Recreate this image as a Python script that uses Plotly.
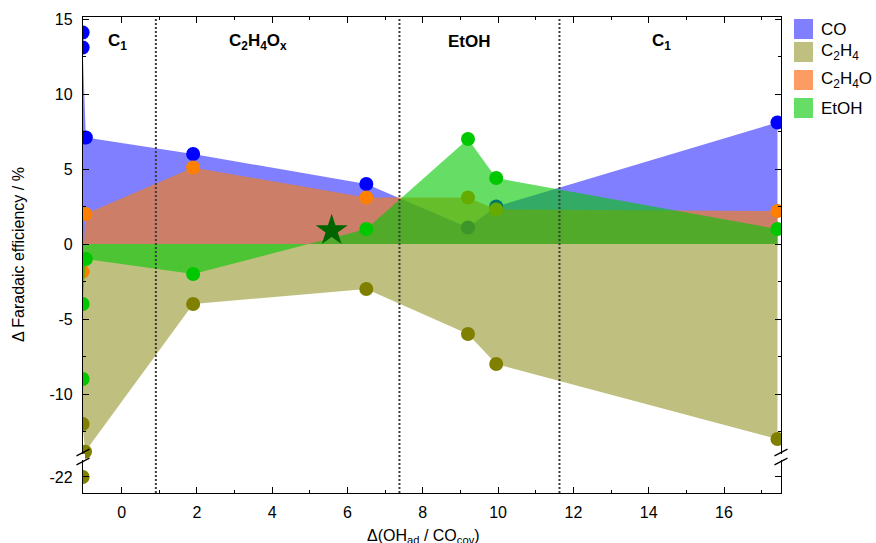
import plotly.graph_objects as go

# ---------------- data ----------------
x_CO = [-1.035, -1.035, -0.95, 1.9, 6.5, 9.2, 9.95, 17.42]
y_CO = [14.1, 13.1, 7.1, 6.0, 4.0, 1.1, 2.5, 8.1]

x_C2H4 = [-1.035, -1.035, -0.97, 1.9, 6.5, 9.2, 9.95, 17.42]
y_C2H4 = [-22.0, -12.0, -13.85, -4.0, -3.0, -6.0, -8.0, -13.0]

x_C2H4O = [-1.035, -0.96, 1.9, 6.5, 9.2, 9.95, 17.42]
y_C2H4O = [-1.85, 2.0, 5.1, 3.1, 3.1, 2.3, 2.2]

x_EtOH = [-1.035, -1.035, -0.95, 1.9, 6.5, 9.2, 9.95, 17.42]
y_EtOH = [-9.0, -4.0, -1.0, -2.0, 1.0, 7.0, 4.4, 1.0]

star_x = [5.58]
star_y = [0.9]

region_bounds = [0.91, 7.38, 11.63]
region_labels = ["C<sub>1</sub>", "C<sub>2</sub>H<sub>4</sub>O<sub>x</sub>", "EtOH", "C<sub>1</sub>"]
region_label_x = [-0.12, 3.62, 9.24, 14.35]
region_label_y = 13.5

y_major_ticks = [-22, -10, -5, 0, 5, 10, 15]
y_minor_ticks = [-12.5, -7.5, -2.5, 2.5, 7.5, 12.5]

series_names = ["CO", "C<sub>2</sub>H<sub>4</sub>", "C<sub>2</sub>H<sub>4</sub>O", "EtOH"]

# ---------------- axis break transform ----------------
BREAK = -14.2
OFFSET = 6.47


def disp(v):
    return v + OFFSET if v < BREAK else v


def dlist(vals):
    return [disp(v) for v in vals]


# ---------------- styles ----------------
FONT = "Liberation Sans, Arial, sans-serif"
marker_colors = ["rgb(0,0,255)", "rgb(128,128,0)", "rgb(255,127,0)", "rgb(0,200,0)"]
fill_colors = ["rgba(0,0,255,0.5)", "rgba(128,128,0,0.5)", "rgba(255,125,5,0.6)", "rgba(0,200,0,0.6)"]
legend_colors = ["rgb(128,128,255)", "rgb(191,191,128)", "rgb(253,155,100)", "rgb(102,222,102)"]

W, H = 876, 543
ML, MR, MT, MB = 83, 95, 17, 50
PW, PH = W - ML - MR, H - MT - MB


def pxx(px):
    return (px - ML) / PW


def pyy(py):
    return (H - MB - py) / PH


fig = go.Figure()

series = [(x_CO, y_CO), (x_C2H4, y_C2H4), (x_C2H4O, y_C2H4O), (x_EtOH, y_EtOH)]
for i, (xs, ys) in enumerate(series):
    fig.add_trace(go.Scatter(
        x=xs, y=dlist(ys), mode="lines+markers", fill="tozeroy",
        fillcolor=fill_colors[i], line=dict(width=0, color=marker_colors[i]),
        marker=dict(size=14, color=marker_colors[i], line=dict(width=0)),
        showlegend=False, cliponaxis=True, name=series_names[i]))

fig.add_trace(go.Scatter(
    x=star_x, y=star_y, mode="markers",
    marker=dict(symbol="star", size=24, color="rgb(0,100,0)", line=dict(width=0)),
    showlegend=False))

shapes = []
for xb in region_bounds:
    shapes.append(dict(type="line", xref="x", yref="paper", x0=xb, x1=xb, y0=0, y1=1,
                       line=dict(color="rgb(60,60,60)", width=2, dash="2px,2px"), layer="above"))

# axis break marks (left and right axes)
yb = BREAK
for ax_px in (ML, W - MR):
    shapes.append(dict(type="rect", xref="paper", yref="y", x0=pxx(ax_px - 2), x1=pxx(ax_px + 2),
                       y0=yb - 0.2, y1=yb + 0.2, fillcolor="white", line=dict(width=0), layer="above"))
    for dy in (0.3, -0.3):
        shapes.append(dict(type="line", xref="paper", yref="y",
                           x0=pxx(ax_px - 6.5), x1=pxx(ax_px + 6.5),
                           y0=yb + dy - 0.22, y1=yb + dy + 0.22,
                           line=dict(color="black", width=1.3), layer="above"))

# legend squares
leg_tops = [19, 42, 70, 98]
annotations = []
for i, top in enumerate(leg_tops):
    shapes.append(dict(type="rect", xref="paper", yref="paper",
                       x0=pxx(794), x1=pxx(813), y0=pyy(top + 20), y1=pyy(top),
                       fillcolor=legend_colors[i], line=dict(width=0)))
    annotations.append(dict(xref="paper", yref="paper", x=pxx(819), y=pyy(top + 10.5),
                            xanchor="left", yanchor="middle", showarrow=False,
                            text=series_names[i], font=dict(family=FONT, size=17, color="black")))

for lab, lx in zip(region_labels, region_label_x):
    annotations.append(dict(xref="x", yref="y", x=lx, y=region_label_y, showarrow=False,
                            text="<b>" + lab + "</b>", font=dict(family=FONT, size=17, color="black")))

annotations.append(dict(xref="paper", yref="paper", x=pxx(423), y=pyy(536), showarrow=False,
                        xanchor="center", yanchor="middle",
                        text="\u0394(OH<sub>ad</sub> / CO<sub>cov</sub>)",
                        font=dict(family=FONT, size=16, color="black")))
annotations.append(dict(xref="paper", yref="paper", x=pxx(18), y=0.5, showarrow=False,
                        xanchor="center", yanchor="middle", textangle=-90,
                        text="\u0394 Faradaic efficiency / %",
                        font=dict(family=FONT, size=16, color="black")))

x_range = [(ML - 121.6) / 37.65, (W - MR - 121.6) / 37.65]
y_range = [(244 - (H - MB)) / 15.0, (244 - MT) / 15.0]

fig.update_layout(
    width=W, height=H, margin=dict(l=ML, r=MR, t=MT, b=MB),
    paper_bgcolor="white", plot_bgcolor="white",
    font=dict(family=FONT, size=16, color="black"),
    shapes=shapes, annotations=annotations, showlegend=False,
    xaxis=dict(range=x_range, showgrid=False, zeroline=False, showline=True, linecolor="black",
               linewidth=1.3, mirror="ticks", ticks="inside", ticklen=6, tickwidth=1.2,
               tickcolor="black", dtick=2, tick0=0, ticklabelstandoff=5,
               tickfont=dict(family=FONT, size=16),
               minor=dict(dtick=1, tick0=0, ticks="inside", ticklen=3, tickcolor="black", tickwidth=1)),
    yaxis=dict(range=y_range, showgrid=False, zeroline=False, showline=True, linecolor="black",
               linewidth=1.3, mirror="ticks", ticks="inside", ticklen=6, tickwidth=1.2,
               tickcolor="black", tickmode="array", tickvals=dlist(y_major_ticks),
               ticktext=[str(v) for v in y_major_ticks], ticklabelstandoff=6,
               tickfont=dict(family=FONT, size=16),
               minor=dict(tickvals=y_minor_ticks, ticks="inside", ticklen=3, tickcolor="black", tickwidth=1)),
)

fig.write_html("out.html", config={"displayModeBar": False},
               post_script="document.body.style.margin='0px';")
